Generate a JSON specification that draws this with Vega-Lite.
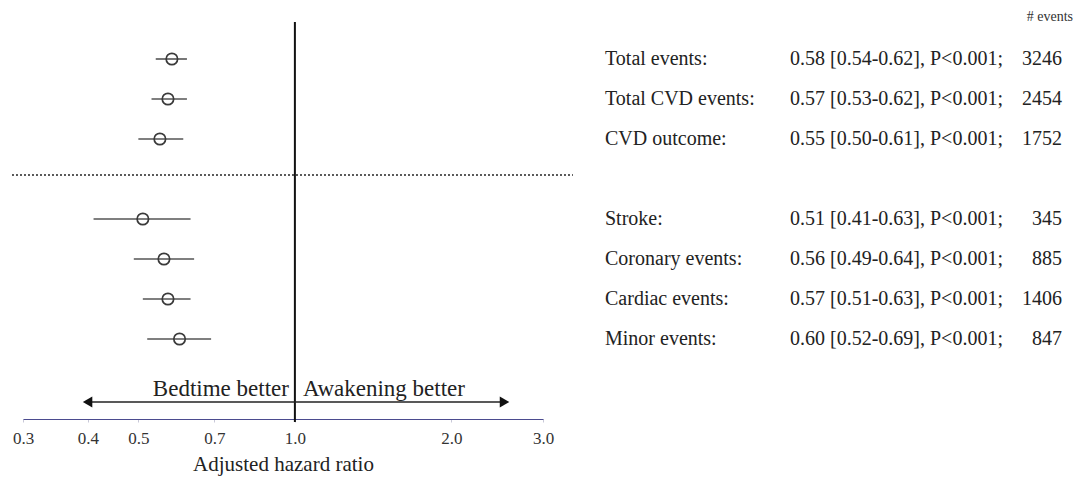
{
  "$schema": "https://vega.github.io/schema/vega-lite/v6.json",
  "width": 1075,
  "height": 479,
  "autosize": {"type": "none"},
  "padding": 0,
  "background": "white",
  "config": {"view": {"stroke": null}, "font": "Liberation Serif"},
  "datasets": {
    "rows": [
      {"row": 0, "outcome": "Total events:", "hr": 0.58, "lo": 0.54, "hi": 0.62, "stat": "0.58 [0.54-0.62], P<0.001;", "events": 3246},
      {"row": 1, "outcome": "Total CVD events:", "hr": 0.57, "lo": 0.53, "hi": 0.62, "stat": "0.57 [0.53-0.62], P<0.001;", "events": 2454},
      {"row": 2, "outcome": "CVD outcome:", "hr": 0.55, "lo": 0.50, "hi": 0.61, "stat": "0.55 [0.50-0.61], P<0.001;", "events": 1752},
      {"row": 4, "outcome": "Stroke:", "hr": 0.51, "lo": 0.41, "hi": 0.63, "stat": "0.51 [0.41-0.63], P<0.001;", "events": 345},
      {"row": 5, "outcome": "Coronary events:", "hr": 0.56, "lo": 0.49, "hi": 0.64, "stat": "0.56 [0.49-0.64], P<0.001;", "events": 885},
      {"row": 6, "outcome": "Cardiac events:", "hr": 0.57, "lo": 0.51, "hi": 0.63, "stat": "0.57 [0.51-0.63], P<0.001;", "events": 1406},
      {"row": 7, "outcome": "Minor events:", "hr": 0.60, "lo": 0.52, "hi": 0.69, "stat": "0.60 [0.52-0.69], P<0.001;", "events": 847}
    ]
  },
  "layer": [
    {
      "layer": [
        {
          "data": {"values": [{}]},
          "mark": {"type": "rule", "color": "#111", "strokeWidth": 2},
          "encoding": {
            "x": {"datum": 1, "type": "quantitative", "scale": {"type": "log", "domain": [0.3, 3], "range": [23, 543], "nice": false}},
            "y": {"datum": -0.925, "type": "quantitative", "scale": {"domain": [-0.925, 9], "range": [22, 419], "nice": false, "zero": false}, "axis": null},
            "y2": {"datum": 9.075}
          }
        },
        {
          "data": {"values": [{}]},
          "mark": {"type": "rule", "color": "#222", "strokeWidth": 1.3, "strokeDash": [2, 2]},
          "encoding": {
            "x": {"datum": 0.2857, "type": "quantitative"},
            "x2": {"datum": 3.425},
            "y": {"datum": 2.9, "type": "quantitative"}
          }
        },
        {
          "data": {"name": "rows"},
          "mark": {"type": "rule", "color": "#555", "strokeWidth": 1.6},
          "encoding": {
            "x": {
              "field": "lo", "type": "quantitative",
              "axis": {
                "values": [0.3, 0.4, 0.5, 0.7, 1, 2, 3],
                "format": ".1f",
                "offset": -60,
                "grid": false,
                "labelFlush": false,
                "labelOverlap": false,
                "domainColor": "#4b4b8f",
                "domainWidth": 1,
                "tickColor": "#c8c8d8",
                "tickSize": 3,
                "labelPadding": 8,
                "labelFont": "Liberation Serif",
                "labelFontSize": 17,
                "labelColor": "#333",
                "title": "Adjusted hazard ratio",
                "titleFont": "Liberation Serif",
                "titleFontSize": 21,
                "titleFontWeight": "normal",
                "titleColor": "#222",
                "titlePadding": 7
              }
            },
            "x2": {"field": "hi"},
            "y": {"field": "row", "type": "quantitative"}
          }
        },
        {
          "data": {"name": "rows"},
          "mark": {"type": "point", "shape": "circle", "filled": false, "size": 130, "stroke": "#3a3a3a", "strokeWidth": 1.7, "opacity": 1},
          "encoding": {
            "x": {"field": "hr", "type": "quantitative"},
            "y": {"field": "row", "type": "quantitative"}
          }
        },
        {
          "data": {"values": [{}]},
          "mark": {"type": "rule", "color": "#222", "strokeWidth": 1.6},
          "encoding": {
            "x": {"datum": 0.3993, "type": "quantitative"},
            "x2": {"datum": 2.53},
            "y": {"datum": 8.575, "type": "quantitative"}
          }
        },
        {
          "data": {"values": [{}]},
          "mark": {"type": "point", "shape": "triangle-left", "filled": true, "size": 120, "color": "#111", "opacity": 1},
          "encoding": {
            "x": {"datum": 0.3993, "type": "quantitative"},
            "y": {"datum": 8.575, "type": "quantitative"}
          }
        },
        {
          "data": {"values": [{}]},
          "mark": {"type": "point", "shape": "triangle-right", "filled": true, "size": 120, "color": "#111", "opacity": 1},
          "encoding": {
            "x": {"datum": 2.53, "type": "quantitative"},
            "y": {"datum": 8.575, "type": "quantitative"}
          }
        },
        {
          "data": {"values": [{}]},
          "mark": {"type": "text", "text": "Bedtime better", "align": "right", "baseline": "middle", "dx": -6, "font": "Liberation Serif", "fontSize": 23, "color": "#222"},
          "encoding": {
            "x": {"datum": 1, "type": "quantitative"},
            "y": {"datum": 8.25, "type": "quantitative"}
          }
        },
        {
          "data": {"values": [{}]},
          "mark": {"type": "text", "text": "Awakening better", "align": "left", "baseline": "middle", "dx": 8, "font": "Liberation Serif", "fontSize": 23, "color": "#222"},
          "encoding": {
            "x": {"datum": 1, "type": "quantitative"},
            "y": {"datum": 8.25, "type": "quantitative"}
          }
        }
      ]
    },
    {
      "layer": [
        {
          "data": {"name": "rows"},
          "mark": {"type": "text", "align": "left", "baseline": "middle", "font": "Liberation Serif", "fontSize": 20, "color": "#222"},
          "encoding": {
            "x": {"datum": 0, "type": "quantitative", "scale": {"domain": [0, 1], "range": [605, 1062], "nice": false, "zero": false}, "axis": null},
            "y": {"field": "row", "type": "quantitative"},
            "text": {"field": "outcome"}
          }
        },
        {
          "data": {"name": "rows"},
          "mark": {"type": "text", "align": "left", "baseline": "middle", "font": "Liberation Serif", "fontSize": 20, "color": "#222"},
          "encoding": {
            "x": {"datum": 0.4048, "type": "quantitative"},
            "y": {"field": "row", "type": "quantitative"},
            "text": {"field": "stat"}
          }
        },
        {
          "data": {"name": "rows"},
          "mark": {"type": "text", "align": "right", "baseline": "middle", "font": "Liberation Serif", "fontSize": 20, "color": "#222"},
          "encoding": {
            "x": {"datum": 1, "type": "quantitative"},
            "y": {"field": "row", "type": "quantitative"},
            "text": {"field": "events", "type": "quantitative", "format": "d"}
          }
        },
        {
          "data": {"values": [{}]},
          "mark": {"type": "text", "text": "# events", "align": "right", "baseline": "middle", "font": "Liberation Serif", "fontSize": 14, "color": "#333"},
          "encoding": {
            "x": {"datum": 1.024, "type": "quantitative"},
            "y": {"datum": -1.05, "type": "quantitative"}
          }
        }
      ]
    }
  ],
  "resolve": {"scale": {"x": "independent"}, "axis": {"x": "independent"}}
}
